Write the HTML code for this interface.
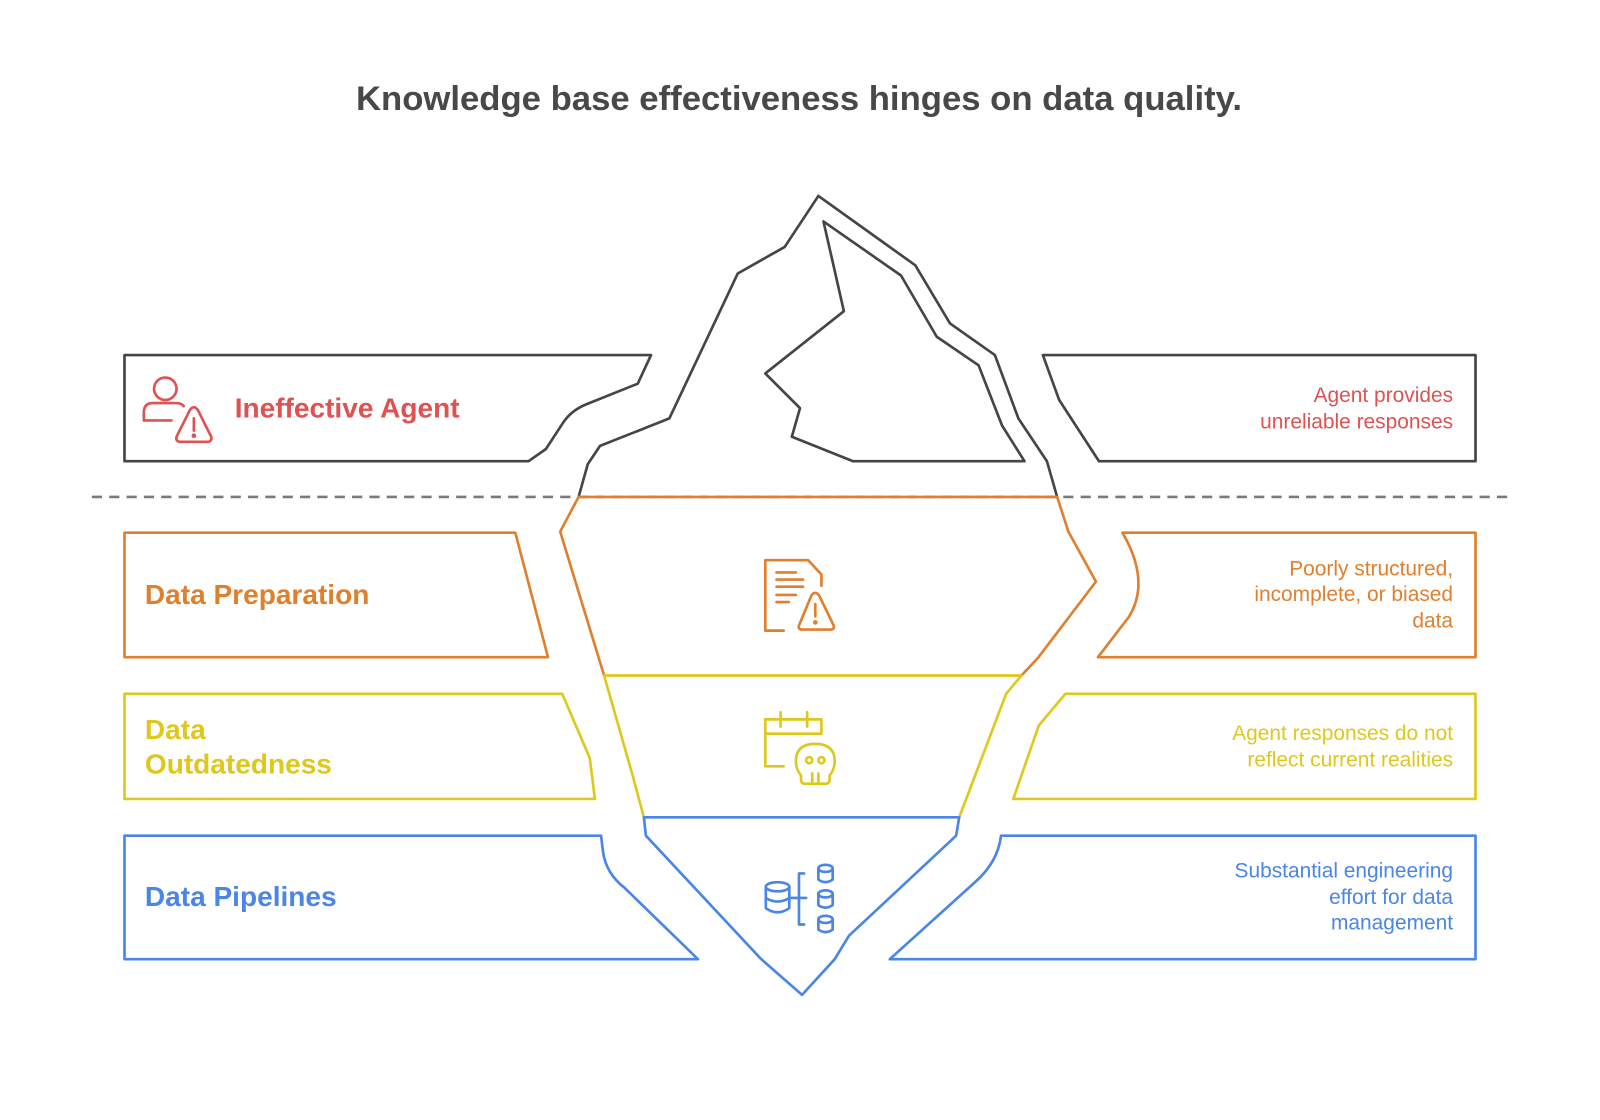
<!DOCTYPE html>
<html><head><meta charset="utf-8"><style>
html,body{margin:0;padding:0;background:#fff;}
svg{display:block;}
text{font-family:"Liberation Sans",Arial,sans-serif;}
</style></head><body>
<svg width="1600" height="1120" viewBox="0 0 1568 1097.6" xmlns="http://www.w3.org/2000/svg">
<rect width="1568" height="1098" fill="#fff"/>
<text x="783" y="108" text-anchor="middle" font-size="34" font-weight="bold" fill="#484848">Knowledge base effectiveness hinges on data quality.</text>

<g fill="none" stroke-width="2.6" stroke-linejoin="round" stroke-linecap="round">
<g stroke="#454545">
<path d="M122,348 H638 L625,376 L575,396 Q560,402 552,414 L535,440 L518,452 H122 Z"/>
<path d="M567,487 L576,455 L588,437 L656,410 L723,268 L769,242 L802,192 L897,260 L931,317 L975,348 L998,410 L1026,452 L1036,487"/>
<path d="M807,217 L827,305 L750,366 L784,400 L776,428 L836,452 H1004 L982,417 L959,358 L918,330 L883,270 Z"/>
<path d="M1022,348 H1446 V452 H1077 L1038,392 Z"/>
</g>
<line x1="90" y1="487" x2="1482" y2="487" stroke="#7a7a7a" stroke-dasharray="10 7" stroke-linecap="butt"/>

<g stroke="#e07f2e">
<path d="M567,487 H1036 L1047,521 L1074,570 L1017,645 L1001,662 M567,487 L549,521 L592,662"/>
<path d="M122,522 H505 L537,644 H122 Z"/>
<path d="M1100,522 H1446 V644 H1076 L1106,605 Q1128,570 1100,522 Z"/>
<path d="M768,618 H750 V549 H792 L805,563 V574"/>
<path d="M761,561 H780 M761,568 H787 M761,575 H787 M761,583 H780 M761,590 H773"/>
<path d="M795,584 Q799,578 803,584 L817,613 Q818,617 814,617 H786 Q782,617 783,613 Z"/>
<path d="M799,592 V604"/>
<circle cx="799" cy="610" r="1" fill="#e07f2e"/>
</g>

<g stroke="#dfc81c">
<path d="M592,662 H1001 L986,680 L940,801 M592,662 L620,760 L631,801"/>
<path d="M122,680 H551 L578,743 L583,783 H122 Z"/>
<path d="M1044,680 H1446 V783 H993 L1018,711 Z"/>
<path d="M768,751 H750 V705 H805 V717 M750,719 H805 M765,698 V712 M791,698 V712"/>
<path d="M785,760 Q780,754 780,746 Q780,729 799,729 Q818,729 818,746 Q818,754 813,760 V764 Q813,768 809,768 H789 Q785,768 785,764 Z"/>
<circle cx="793" cy="745" r="3"/><circle cx="805" cy="745" r="3"/>
<path d="M796,758 V767 M802,758 V767"/>
</g>

<g stroke="#4a86e8">
<path d="M631,801 H940 L937,819 L832,917 L818,940 L786,975 L746,940 L633,819 Z"/>
<path d="M122,819 H589 L591,835 Q594,856 612,870 L684,940 H122 Z"/>
<path d="M981,819 H1446 V940 H872 L955,865 Q978,845 981,819 Z"/>
<ellipse cx="762" cy="869" rx="11.5" ry="4.5"/>
<path d="M750.5,869 V890 Q762,898 773.5,890 V869 M750.5,880 Q762,887 773.5,880"/>
<path d="M773.5,880 H790 M788,856 H783 V906 H788"/>
<ellipse cx="809" cy="851" rx="7" ry="3.5"/><path d="M802,851 V862 Q809,867 816,862 V851"/>
<ellipse cx="809" cy="876" rx="7" ry="3.5"/><path d="M802,876 V887 Q809,892 816,887 V876"/>
<ellipse cx="809" cy="901" rx="7" ry="3.5"/><path d="M802,901 V911 Q809,916 816,911 V901"/>
</g>

<g stroke="#e05252">
<circle cx="162" cy="381" r="11"/>
<path d="M141,412 V404 Q141,395 150,395 H172 Q178,395 180,398"/>
<path d="M141,412 H168"/>
<path d="M186,402 Q190,396 194,402 L207,428 Q208,433 203,433 H177 Q172,433 173,428 Z"/>
<path d="M190,410 V422"/>
<circle cx="190" cy="427" r="1" fill="#e05252"/>
</g>
</g>

<g font-weight="bold" font-size="27.5">
<text x="230" y="409" fill="#e05252">Ineffective Agent</text>
<text x="142" y="592" fill="#e07f2e">Data Preparation</text>
<text x="142" y="724" fill="#dfc81c">Data</text>
<text x="142" y="758" fill="#dfc81c">Outdatedness</text>
<text x="142" y="888" fill="#4a86e8">Data Pipelines</text>
</g>
<g font-size="20.5" text-anchor="end">
<text x="1424" y="394" fill="#e05252">Agent provides</text>
<text x="1424" y="420" fill="#e05252">unreliable responses</text>
<text x="1424" y="564" fill="#e07f2e">Poorly structured,</text>
<text x="1424" y="589" fill="#e07f2e">incomplete, or biased</text>
<text x="1424" y="615" fill="#e07f2e">data</text>
<text x="1424" y="725" fill="#dfc81c">Agent responses do not</text>
<text x="1424" y="751" fill="#dfc81c">reflect current realities</text>
<text x="1424" y="860" fill="#4a86e8">Substantial engineering</text>
<text x="1424" y="886" fill="#4a86e8">effort for data</text>
<text x="1424" y="911" fill="#4a86e8">management</text>
</g>
</svg>
</body></html>
